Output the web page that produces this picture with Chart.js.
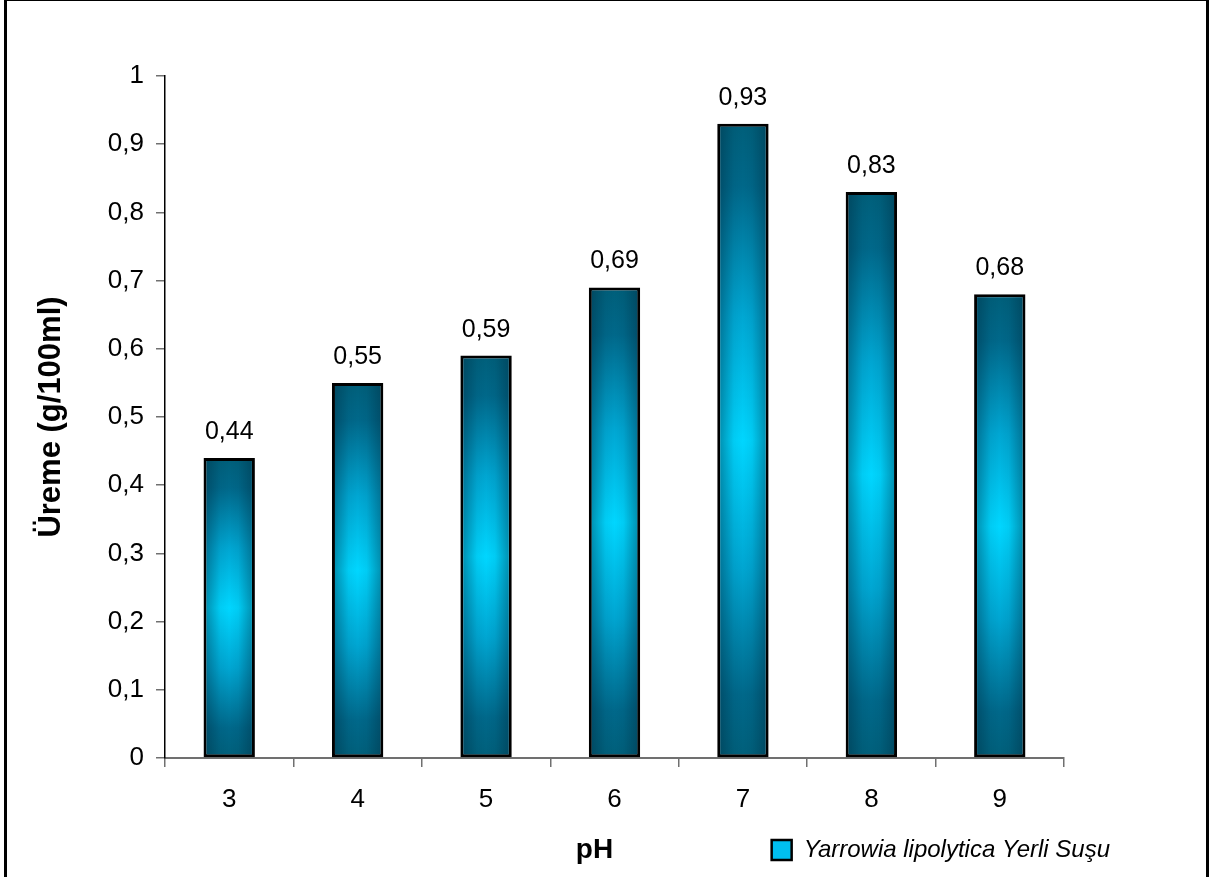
<!DOCTYPE html>
<html>
<head>
<meta charset="utf-8">
<title>Üreme - pH</title>
<script src="https://cdn.jsdelivr.net/npm/chart.js@4"></script>
<style>
  html, body { margin: 0; padding: 0; background: #fff; overflow: hidden; }
  #frame {
    position: absolute; left: 4px; top: 0;
    width: 1199px; height: 900px;
    border-left: 3px solid #000; border-right: 3px solid #000; border-top: 1px solid #000;
    background: #fff;
  }
  #box { position: absolute; left: 0; top: 0; width: 1199px; height: 876px; }
</style>
</head>
<body>
<div id="frame"><div id="box"><canvas id="c" width="1199" height="876"></canvas></div></div>
<script>
// pH values on the x axis
const categories = ['3', '4', '5', '6', '7', '8', '9'];
// growth, g/100ml
const growth = [0.44, 0.55, 0.59, 0.69, 0.93, 0.83, 0.68];
// y axis tick labels (decimal comma)
const yTickLabels = ['0', '0,1', '0,2', '0,3', '0,4', '0,5', '0,6', '0,7', '0,8', '0,9', '1'];
const seriesName = 'Yarrowia lipolytica Yerli Suşu';
const yTitle = 'Üreme (g/100ml)';
const xTitle = 'pH';

const FONT = '"Liberation Sans", Arial, Helvetica, sans-serif';

function fmt(v) { return v.toFixed(2).replace('.', ','); }

// vertical "tube" shading for each bar, from its top down to zero
function barFill(ctx) {
  const chart = ctx.chart;
  if (!chart.chartArea || ctx.type !== 'data') return '#00b8e6';
  const ys = chart.scales.y;
  const top = ys.getPixelForValue(ctx.raw);
  const bottom = ys.getPixelForValue(0);
  const g = chart.ctx.createLinearGradient(0, top, 0, bottom);
  g.addColorStop(0.00, '#005f7a');
  g.addColorStop(0.10, '#00688a');
  g.addColorStop(0.30, '#00a6d2');
  g.addColorStop(0.50, '#00d6ff');
  g.addColorStop(0.70, '#00a6d2');
  g.addColorStop(0.90, '#00688a');
  g.addColorStop(1.00, '#005f7a');
  return g;
}

// darker side edges and value labels on top of the bars
const barDecor = {
  id: 'barDecor',
  afterDatasetsDraw(chart) {
    const ctx = chart.ctx;
    const meta = chart.getDatasetMeta(0);
    ctx.save();
    meta.data.forEach((el, i) => {
      const p = el.getProps(['x', 'y', 'base', 'width'], true);
      const inset = 3;
      const l = p.x - p.width / 2 + inset, r = p.x + p.width / 2 - inset;
      const t = Math.min(p.y, p.base) + inset, b = Math.max(p.y, p.base) - inset;
      const h = ctx.createLinearGradient(l, 0, r, 0);
      h.addColorStop(0.00, 'rgba(0,40,60,0.38)');
      h.addColorStop(0.30, 'rgba(0,40,60,0.06)');
      h.addColorStop(0.50, 'rgba(0,40,60,0.0)');
      h.addColorStop(0.70, 'rgba(0,40,60,0.06)');
      h.addColorStop(1.00, 'rgba(0,40,60,0.38)');
      ctx.fillStyle = h;
      ctx.fillRect(l, t, r - l, b - t);

      ctx.fillStyle = '#000';
      ctx.font = '25px ' + FONT;
      ctx.textAlign = 'center';
      ctx.textBaseline = 'middle';
      ctx.fillText(fmt(growth[i]), p.x, p.y - 26);
    });
    ctx.restore();
  }
};

// x axis title sits in the legend row, legend kept to the right
const bottomRow = {
  id: 'bottomRow',
  afterLayout(chart) {
    const lg = chart.legend;
    if (!lg) return;
    const target = chart.width - 86;
    const dx = target - lg.right;
    lg.left += dx;
    lg.right += dx;
  },
  afterDraw(chart) {
    const lg = chart.legend;
    const xs = chart.scales.x;
    const ctx = chart.ctx;
    ctx.save();
    ctx.fillStyle = '#000';
    ctx.font = 'bold 28px ' + FONT;
    ctx.textAlign = 'center';
    ctx.textBaseline = 'middle';
    ctx.fillText(xTitle, (xs.left + xs.right) / 2 - 20, lg.top + 22);
    ctx.restore();
  }
};

new Chart(document.getElementById('c'), {
  type: 'bar',
  data: {
    labels: categories,
    datasets: [{
      label: seriesName,
      data: growth,
      backgroundColor: barFill,
      borderColor: '#000',
      borderWidth: 3,
      borderSkipped: false,
      barPercentage: 0.4,
      categoryPercentage: 1.0
    }]
  },
  options: {
    responsive: false,
    animation: false,
    layout: { padding: { top: 75, right: 142, bottom: 5, left: 0 } },
    plugins: {
      tooltip: { enabled: false },
      legend: {
        position: 'bottom',
        align: 'end',
        labels: {
          color: '#000',
          boxWidth: 20,
          boxHeight: 20,
          font: { family: FONT, size: 24, style: 'italic' },
          generateLabels(chart) {
            return [{
              text: seriesName,
              fillStyle: '#00bff0',
              strokeStyle: '#000',
              lineWidth: 2.5,
              hidden: false,
              datasetIndex: 0,
              fontColor: '#000'
            }];
          }
        }
      }
    },
    scales: {
      x: {
        offset: true,
        border: { display: true, color: '#707070', width: 2 },
        grid: { display: true, drawOnChartArea: false, drawTicks: true, tickLength: 9, color: '#707070', lineWidth: 1.5, offset: true },
        ticks: { color: '#000', padding: 17, font: { family: FONT, size: 26 } },
        afterFit(s) { s.height = 70; }
      },
      y: {
        min: 0,
        max: 1,
        border: { display: true, color: '#000', width: 1.5 },
        grid: { display: true, drawOnChartArea: false, drawTicks: true, tickLength: 9, color: '#707070', lineWidth: 1.5 },
        ticks: {
          stepSize: 0.1,
          color: '#000',
          padding: 12,
          font: { family: FONT, size: 26 },
          callback(value, index) { return yTickLabels[index]; }
        },
        title: {
          display: true,
          text: yTitle,
          color: '#000',
          font: { family: FONT, size: 31, weight: 'bold' },
          padding: { top: 26, bottom: 0 }
        },
        afterFit(s) { s.width = 158; }
      }
    }
  },
  plugins: [barDecor, bottomRow]
});
</script>
</body>
</html>
